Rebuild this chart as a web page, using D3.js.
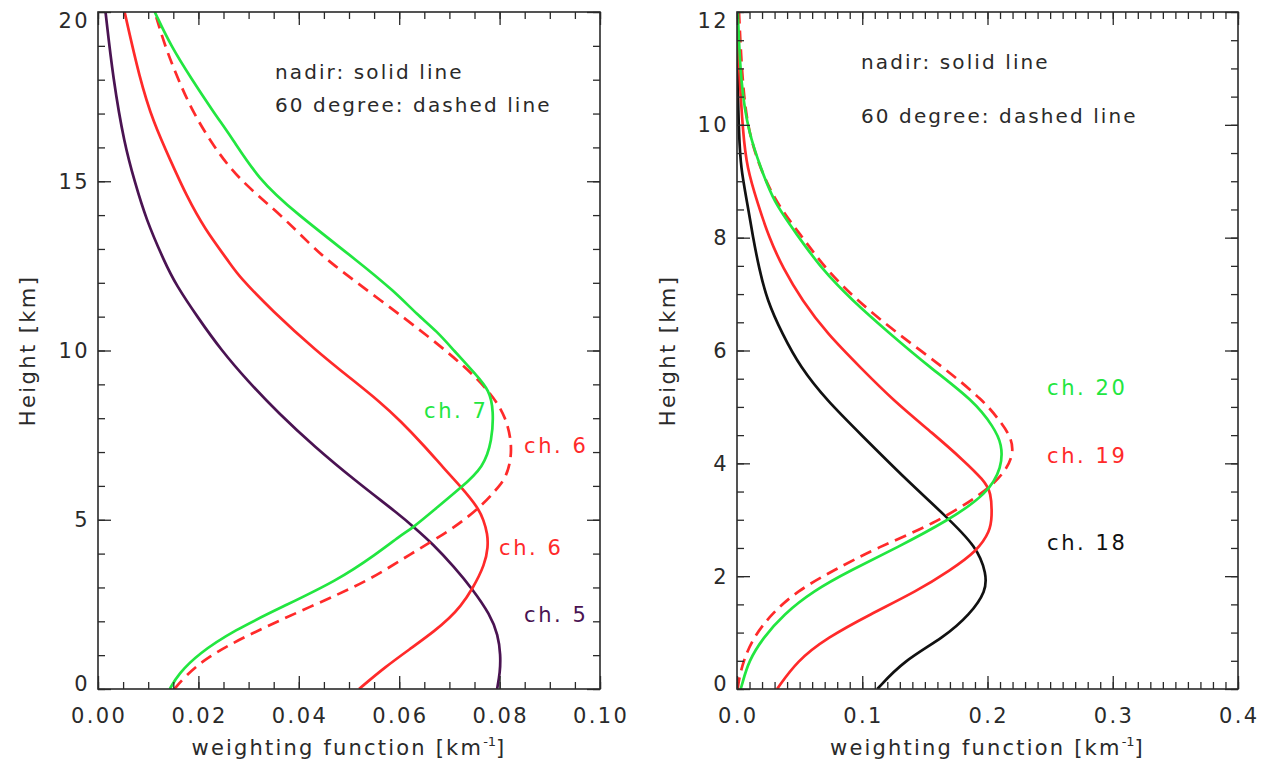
<!DOCTYPE html>
<html>
<head>
<meta charset="utf-8">
<script src="https://cdn.jsdelivr.net/npm/d3@7/dist/d3.min.js"></script>
<style>
  html, body { margin: 0; padding: 0; background: #fff; }
  svg text { font-family: "DejaVu Sans", "Liberation Sans", sans-serif; fill: #2a2a2a; }
</style>
</head>
<body>
<svg id="chart" width="1267" height="765"></svg>
<script>
// ---- Weighting functions: [height km, weight km^-1] ----
// Left panel, channels 5-7
const ch5Nadir = [
  [0, 0.0795], [0.5, 0.0801], [1.0, 0.0802], [1.6, 0.0797], [2.2, 0.0781],
  [2.95, 0.0746], [3.6, 0.0710], [4.3, 0.0666], [4.77, 0.0630], [5.12, 0.0603],
  [6.16, 0.0512], [7.15, 0.0432], [8.14, 0.0360], [9.12, 0.0297], [10, 0.0246],
  [10.97, 0.0199], [11.95, 0.0155], [12.6, 0.0133], [13.9, 0.0095], [15, 0.0073],
  [16.06, 0.0053], [18.03, 0.0030], [20, 0.0015]
];
const ch6Nadir = [
  [0, 0.0520], [0.64, 0.0571], [1.23, 0.0626], [1.73, 0.0672], [2.11, 0.0701],
  [2.42, 0.0721], [2.95, 0.0746], [3.69, 0.0771], [4.2, 0.0777], [4.58, 0.0776],
  [5.0, 0.0768], [5.36, 0.0757], [5.96, 0.0724], [6.5, 0.0690], [7.15, 0.0652],
  [7.93, 0.0602], [8.5, 0.0560], [9.12, 0.0508], [10, 0.0434], [11.16, 0.0348],
  [12.2, 0.0280], [12.6, 0.0262], [13.6, 0.0212], [14.58, 0.0176], [15.56, 0.0146],
  [16.75, 0.0110], [18.03, 0.0083], [20, 0.0053]
];
const ch7Nadir = [
  [0, 0.0143], [0.44, 0.0160], [1.04, 0.0200], [1.73, 0.0271], [2.42, 0.0366],
  [3.2, 0.0476], [3.99, 0.0555], [4.53, 0.0602], [4.77, 0.0628], [5.27, 0.0668],
  [5.96, 0.0724], [6.55, 0.0768], [7.34, 0.0785], [8.22, 0.0788], [8.82, 0.0780],
  [9.3, 0.0752], [10, 0.0709], [10.57, 0.0675], [11.06, 0.0636], [11.75, 0.0590],
  [12.6, 0.0521], [14.08, 0.0392], [15.07, 0.0319], [16.3, 0.0266], [17.0, 0.0232],
  [18.03, 0.0186], [19.0, 0.0145], [20, 0.0113]
];
const ch6Slant = [
  [0, 0.0152], [0.35, 0.0172], [0.94, 0.0216], [1.63, 0.0303], [2.42, 0.0421],
  [3.2, 0.0540], [3.99, 0.0622], [4.67, 0.0701], [5.36, 0.0761], [5.87, 0.0792],
  [6.25, 0.0814], [7.04, 0.0827], [8.03, 0.0814], [8.77, 0.0781], [9.5, 0.0733],
  [10.47, 0.0654], [11.46, 0.0565], [12.6, 0.0462], [13.1, 0.0425], [14.08, 0.0359],
  [15.07, 0.0279], [16.06, 0.0229], [17.04, 0.0189], [18.03, 0.0159], [19.01, 0.0133],
  [20, 0.0113]
];

// Right panel, channels 18-20
const ch18Nadir = [
  [0, 0.112], [0.5, 0.133], [0.91, 0.165], [1.32, 0.186], [1.74, 0.199],
  [2.04, 0.199], [2.51, 0.192], [3.10, 0.165], [3.69, 0.136], [4.52, 0.0985],
  [5.11, 0.0719], [5.70, 0.0506], [6.30, 0.0360], [6.89, 0.0240], [7.46, 0.0176],
  [8.0, 0.0128], [8.64, 0.0080], [9.24, 0.0030], [9.83, 0.0016], [10.6, 0.0006],
  [12, 0.0]
];
const ch19Nadir = [
  [0, 0.032], [0.5, 0.048], [0.91, 0.072], [1.32, 0.106], [1.74, 0.144],
  [2.10, 0.170], [2.45, 0.192], [2.80, 0.202], [3.04, 0.2036], [3.49, 0.203],
  [3.70, 0.197], [4.05, 0.181], [4.52, 0.157], [5.11, 0.125], [5.70, 0.0985],
  [6.30, 0.0719], [6.89, 0.0519], [7.46, 0.0367], [8.0, 0.0256], [8.64, 0.016],
  [9.24, 0.008], [9.83, 0.0048], [11, 0.0016], [12, 0.0]
];
const ch20Nadir = [
  [0, 0.003], [0.08, 0.004], [0.5, 0.0093], [0.91, 0.021], [1.32, 0.037],
  [1.74, 0.061], [2.10, 0.0905], [2.51, 0.128], [2.98, 0.168], [3.46, 0.200],
  [3.93, 0.2116], [4.34, 0.2116], [4.64, 0.205], [5.11, 0.189], [5.70, 0.154],
  [6.30, 0.122], [6.89, 0.0918], [7.46, 0.067], [8.05, 0.048], [8.64, 0.029],
  [9.24, 0.019], [9.83, 0.0096], [10.7, 0.003], [12, 0.0006]
];
const ch19Slant = [
  [0, 0.0006], [0.14, 0.0013], [0.5, 0.005], [0.91, 0.013], [1.32, 0.027],
  [1.74, 0.048], [2.10, 0.077], [2.51, 0.112], [2.92, 0.157], [3.46, 0.196],
  [3.81, 0.213], [4.16, 0.221], [4.46, 0.219], [4.75, 0.210], [5.11, 0.197],
  [5.70, 0.165], [6.30, 0.128], [6.89, 0.0958], [7.46, 0.070], [8.05, 0.051],
  [8.64, 0.030], [9.53, 0.0128], [10.4, 0.005], [12, 0.0016]
];

// Tick values
const leftXTicks = [0, 0.02, 0.04, 0.06, 0.08, 0.10];
const leftYTicks = [0, 5, 10, 15, 20];
const rightXTicks = [0, 0.1, 0.2, 0.3, 0.4];
const rightYTicks = [0, 2, 4, 6, 8, 10, 12];

const notes = ["nadir: solid line", "60 degree: dashed line"];

const GREEN = "#22e640";
const RED = "#ff2a2a";
const PURPLE = "#4a1352";
const BLACK = "#111111";

const svg = d3.select("#chart");
svg.append("rect").attr("width", 1267).attr("height", 765).attr("fill", "#fff");

function panel(cfg) {
  const x = d3.scaleLinear().domain(cfg.xDomain).range([cfg.left, cfg.right]);
  const y = d3.scaleLinear().domain(cfg.yDomain).range([cfg.bottom, cfg.top]);
  const g = svg.append("g");

  const clipId = "clip" + cfg.left;
  svg.append("clipPath").attr("id", clipId).append("rect")
    .attr("x", cfg.left).attr("y", cfg.top)
    .attr("width", cfg.right - cfg.left).attr("height", cfg.bottom - cfg.top);

  const line = d3.line().x(d => x(d[1])).y(d => y(d[0])).curve(d3.curveBasis);
  const plot = g.append("g").attr("clip-path", `url(#${clipId})`);
  cfg.series.forEach(s => {
    plot.append("path")
      .attr("d", line(s.data))
      .attr("fill", "none")
      .attr("stroke", s.color)
      .attr("stroke-width", 2.7)
      .attr("stroke-linejoin", "round")
      .attr("stroke-dasharray", s.dashed ? "12,7" : null);
  });

  // minor and major ticks on all four sides, pointing inward
  const xMinor = d3.range(cfg.xDomain[0], cfg.xDomain[1] + cfg.xMinor / 2, cfg.xMinor);
  const yMinor = d3.range(cfg.yDomain[0], cfg.yDomain[1] + cfg.yMinor / 2, cfg.yMinor);
  const axes = [
    [d3.axisBottom(x), `translate(0,${cfg.bottom})`, xMinor, cfg.xTicks],
    [d3.axisTop(x), `translate(0,${cfg.top})`, xMinor, cfg.xTicks],
    [d3.axisLeft(y), `translate(${cfg.left},0)`, yMinor, cfg.yTicks],
    [d3.axisRight(y), `translate(${cfg.right},0)`, yMinor, cfg.yTicks]
  ];
  axes.forEach(([ax, tr, minor, major]) => {
    const gm = g.append("g").attr("transform", tr)
      .call(ax.tickValues(minor).tickSize(-7).tickFormat(""));
    gm.select(".domain").remove();
    gm.selectAll("line").attr("stroke", "#2a2a2a").attr("stroke-width", 1.3);
    const gM = g.append("g").attr("transform", tr)
      .call(ax.tickValues(major).tickSize(-13).tickFormat(""));
    gM.select(".domain").remove();
    gM.selectAll("line").attr("stroke", "#2a2a2a").attr("stroke-width", 1.3);
  });

  // tick labels
  const lab = g.append("g").attr("font-size", 21).attr("letter-spacing", 2.4);
  cfg.xTicks.forEach(v => {
    lab.append("text").attr("x", x(v) + 1.2).attr("y", cfg.bottom + 34)
      .attr("text-anchor", "middle").text(cfg.xFmt(v));
  });
  cfg.yTicks.forEach((v, i) => {
    let shift = 0;
    if (i === 0) shift = -6;
    if (i === cfg.yTicks.length - 1) shift = 8;
    lab.append("text").attr("x", cfg.left - 8).attr("y", y(v) + shift)
      .attr("dy", "0.36em").attr("text-anchor", "end").text(v);
  });

  // frame
  g.append("rect")
    .attr("x", cfg.left).attr("y", cfg.top)
    .attr("width", cfg.right - cfg.left).attr("height", cfg.bottom - cfg.top)
    .attr("fill", "none").attr("stroke", "#2a2a2a").attr("stroke-width", 1.6);

  // axis titles
  const xt = g.append("text")
    .attr("x", (cfg.left + cfg.right) / 2).attr("y", 755)
    .attr("text-anchor", "middle").attr("font-size", 21).attr("letter-spacing", 2.2);
  xt.append("tspan").text("weighting function [km");
  xt.append("tspan").attr("dy", -9).attr("font-size", 13).attr("letter-spacing", 0).text("-1");
  xt.append("tspan").attr("dy", 9).text("]");

  g.append("text")
    .attr("transform", `translate(${cfg.left - cfg.titleGap},${(cfg.top + cfg.bottom) / 2}) rotate(-90)`)
    .attr("text-anchor", "middle").attr("font-size", 21).attr("letter-spacing", 2.4)
    .text("Height [km]");

  // notes
  notes.forEach((t, i) => {
    g.append("text").attr("x", cfg.noteX).attr("y", cfg.noteY[i])
      .attr("font-size", 20).attr("letter-spacing", 2.1).text(t);
  });

  // channel labels
  cfg.labels.forEach(l => {
    g.append("text").attr("x", l.x).attr("y", l.y)
      .attr("font-size", 21).attr("letter-spacing", 2.6)
      .style("fill", l.color).text(l.text);
  });
}

panel({
  left: 98, right: 600, top: 12, bottom: 689,
  xDomain: [0, 0.10], yDomain: [0, 20],
  xTicks: leftXTicks, yTicks: leftYTicks, xMinor: 0.005, yMinor: 1,
  xFmt: d3.format(".2f"), titleGap: 63,
  noteX: 275, noteY: [79, 112],
  series: [
    { data: ch5Nadir, color: PURPLE },
    { data: ch6Nadir, color: RED },
    { data: ch6Slant, color: RED, dashed: true },
    { data: ch7Nadir, color: GREEN }
  ],
  labels: [
    { text: "ch. 7", x: 424, y: 418, color: GREEN },
    { text: "ch. 6", x: 524, y: 453, color: RED },
    { text: "ch. 6", x: 499, y: 555, color: RED },
    { text: "ch. 5", x: 524, y: 622, color: PURPLE }
  ]
});

panel({
  left: 737, right: 1238, top: 12, bottom: 689,
  xDomain: [0, 0.4], yDomain: [0, 12],
  xTicks: rightXTicks, yTicks: rightYTicks, xMinor: 0.01, yMinor: 0.5,
  xFmt: d3.format(".1f"), titleGap: 62,
  noteX: 861, noteY: [69, 123],
  series: [
    { data: ch18Nadir, color: BLACK },
    { data: ch19Nadir, color: RED },
    { data: ch19Slant, color: RED, dashed: true },
    { data: ch20Nadir, color: GREEN }
  ],
  labels: [
    { text: "ch. 20", x: 1047, y: 395, color: GREEN },
    { text: "ch. 19", x: 1047, y: 463, color: RED },
    { text: "ch. 18", x: 1047, y: 550, color: BLACK }
  ]
});
</script>
</body>
</html>
